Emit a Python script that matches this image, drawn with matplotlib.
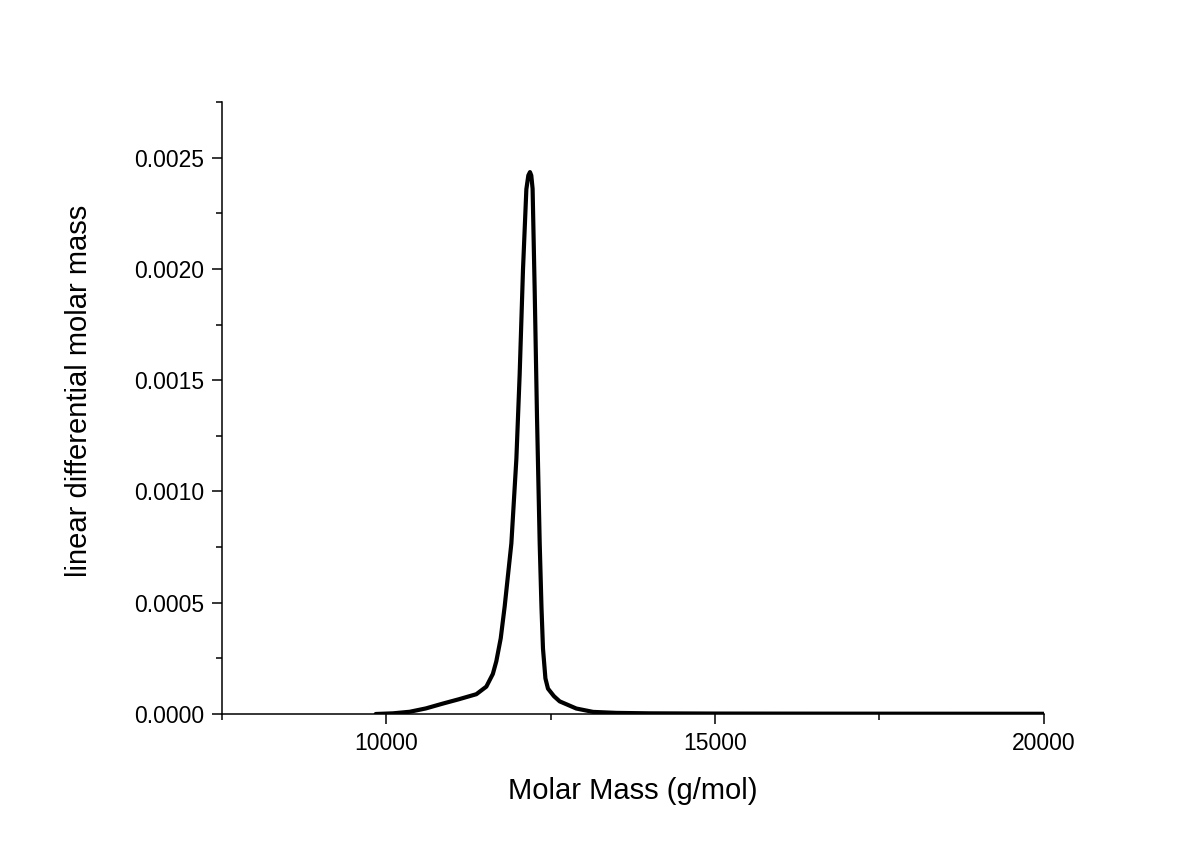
import matplotlib
matplotlib.use('Agg')
import matplotlib.pyplot as plt
from matplotlib.ticker import FormatStrFormatter

plt.rcParams['font.family'] = ['Liberation Sans', 'DejaVu Sans']

# molar mass (g/mol) and linear differential molar mass
molar_mass = [9838, 10100, 10355, 10600, 10862, 11100, 11369, 11521, 11620,
              11673, 11740, 11800, 11902, 11978, 12028, 12079, 12130, 12160,
              12185, 12205, 12225, 12257, 12292, 12333, 12360, 12383, 12420,
              12459, 12550, 12637, 12890, 13144, 13500, 14000, 15000, 17000,
              20000]
diff_mass = [0.0, 0.000003, 0.00001, 0.000025, 0.000047, 0.000066, 0.000089,
             0.000123, 0.00018, 0.000237, 0.00034, 0.000483, 0.000767,
             0.001146, 0.001525, 0.001998, 0.002358, 0.00242, 0.002435,
             0.00242, 0.00236, 0.0019, 0.001335, 0.000767, 0.00048, 0.000294,
             0.00016, 0.000114, 0.00008, 0.0000568, 0.0000246, 0.0000095,
             0.000005, 0.000003, 0.000002, 0.0000015, 0.000001]

x_major = [10000, 15000, 20000]
x_minor = [7500, 12500, 17500]
y_major = [0.0, 0.0005, 0.0010, 0.0015, 0.0020, 0.0025]
y_minor = [0.00025, 0.00075, 0.00125, 0.00175, 0.00225, 0.00275]

fig = plt.figure(figsize=(11.94, 8.5), dpi=100)
ax = fig.add_axes((0.186, 0.16, 0.688, 0.72))

ax.plot(molar_mass, diff_mass, color='black', lw=3.0,
        solid_joinstyle='round', solid_capstyle='round')

ax.set_xlim(7500, 20000)
ax.set_ylim(0, 0.00275)
ax.set_xticks(x_major)
ax.set_xticks(x_minor, minor=True)
ax.set_yticks(y_major)
ax.set_yticks(y_minor, minor=True)
ax.yaxis.set_major_formatter(FormatStrFormatter('%.4f'))

for s in ['top', 'right']:
    ax.spines[s].set_visible(False)
for s in ['left', 'bottom']:
    ax.spines[s].set_linewidth(1.1)

ax.tick_params(which='major', direction='out', length=7.5, width=1.1,
               labelsize=16.5, pad=5.5)
ax.tick_params(which='minor', direction='out', length=4.5, width=1.1)

ax.set_xlabel('Molar Mass (g/mol)', fontsize=21)
ax.set_ylabel('linear differential molar mass', fontsize=21)
ax.xaxis.set_label_coords(0.5, -0.103)
ax.yaxis.set_label_coords(-0.157, 0.528)

fig.savefig('out.png', dpi=100)
